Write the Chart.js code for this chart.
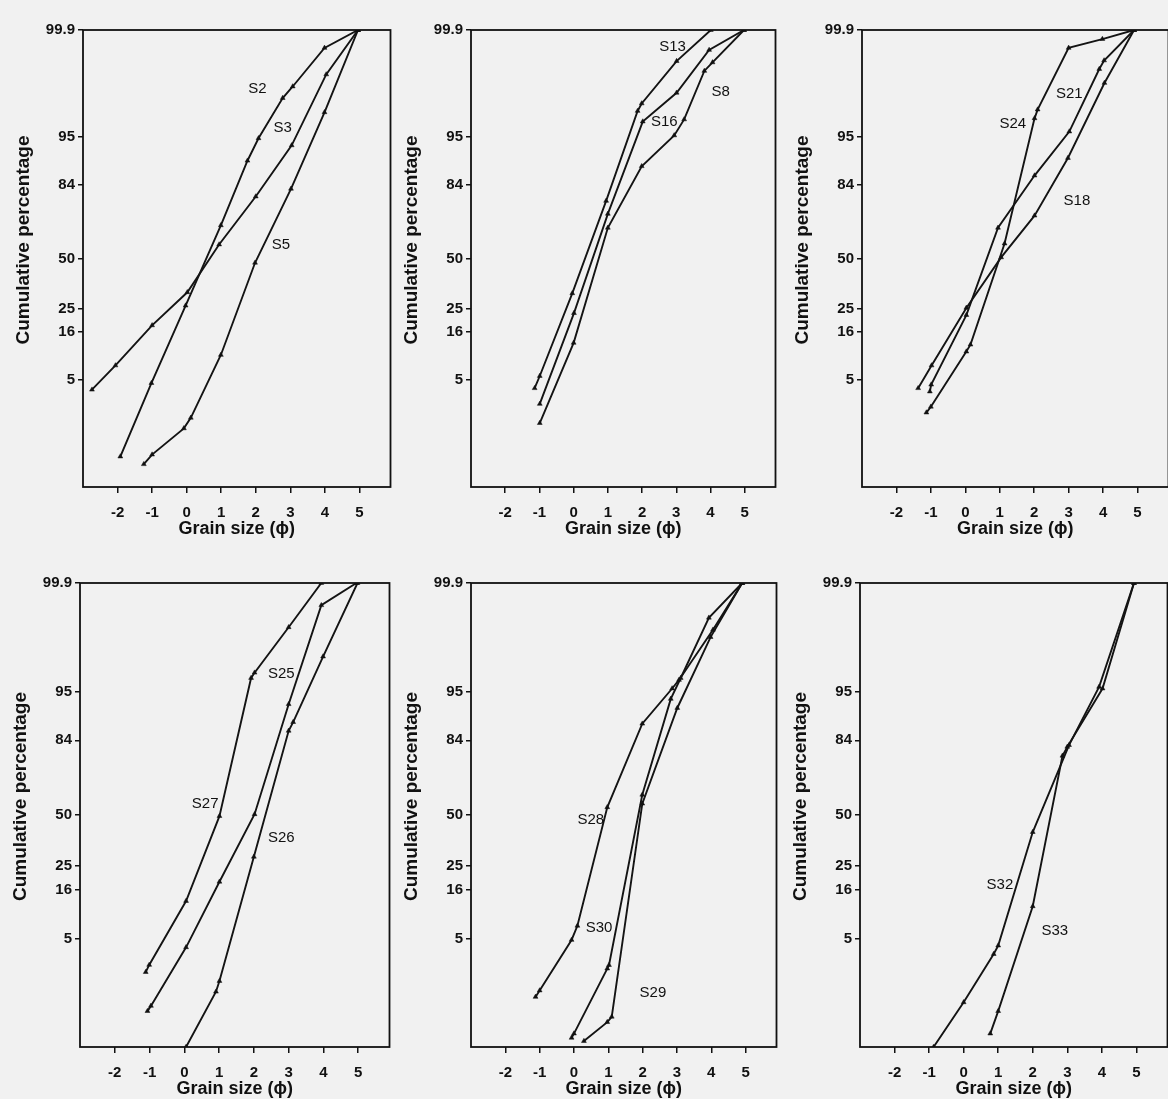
<!DOCTYPE html>
<html>
<head>
<meta charset="utf-8">
<script src="https://cdn.jsdelivr.net/npm/chart.js@4.4.1/dist/chart.umd.min.js"></script>
<style>
  body { margin: 0; background: #f1f1f1; width: 1168px; height: 1099px; overflow: hidden; position: relative; }
  canvas { position: absolute; }
</style>
</head>
<body>
<canvas id="p1"></canvas>
<canvas id="p2"></canvas>
<canvas id="p3"></canvas>
<canvas id="p4"></canvas>
<canvas id="p5"></canvas>
<canvas id="p6"></canvas>
<script>
// axis ticks
var xTicks = [-2, -1, 0, 1, 2, 3, 4, 5];
var yTickPct = [5, 16, 25, 50, 84, 95, 99.9];
var yTickText = ["5", "16", "25", "50", "84", "95", "99.9"];

// grain size (phi) and cumulative percentage
var s2Phi = [-1.92, -1.02, -0.03, 0.99, 1.76, 2.08, 2.78, 3.07, 3.99, 4.96];
var s2Pct = [0.37, 4.6, 26.2, 67.3, 90.7, 94.8, 98.5, 99.0, 99.78, 99.9];
var s3Phi = [-2.74, -2.06, -1.0, 0.02, 0.94, 2.0, 3.04, 4.04, 4.96];
var s3Pct = [3.8, 7.4, 18.3, 32.4, 57.5, 79.9, 93.7, 99.36, 99.9];
var s5Phi = [-1.24, -1.0, -0.08, 0.12, 0.99, 1.98, 3.02, 3.99, 4.96];
var s5Pct = [0.27, 0.40, 1.08, 1.56, 9.6, 47.7, 82.7, 97.6, 99.9];

var s13Phi = [-1.14, -0.99, -0.04, 0.95, 1.87, 1.99, 3.01, 4.01];
var s13Pct = [3.97, 5.6, 31.9, 78.2, 97.7, 98.2, 99.62, 99.9];
var s16Phi = [-0.99, 0.01, 1.0, 2.02, 3.01, 3.96, 4.98];
var s16Pct = [2.46, 23.0, 72.7, 96.8, 98.75, 99.76, 99.9];
var s8Phi = [-0.99, 0, 1.0, 1.99, 2.94, 3.23, 3.82, 4.06, 4.98];
var s8Pct = [1.30, 12.7, 66.1, 89.4, 95.2, 97.0, 99.44, 99.6, 99.9];

var s24Phi = [-1.13, -1.0, 0.03, 0.15, 1.14, 2.01, 2.1, 3.0, 3.98, 4.9];
var s24Pct = [1.86, 2.25, 10.4, 12.2, 58.0, 97.1, 97.8, 99.78, 99.85, 99.9];
var s21Phi = [-1.03, -0.99, 0.03, 0.95, 2.01, 3.02, 3.89, 4.03, 4.9];
var s21Pct = [3.6, 4.4, 22.2, 66.1, 86.9, 95.7, 99.48, 99.63, 99.9];
var s18Phi = [-1.37, -0.98, 0.03, 1.04, 2.01, 2.98, 4.04, 4.9];
var s18Pct = [3.97, 7.4, 25.2, 50.6, 71.9, 91.3, 99.12, 99.9];

var s27Phi = [-1.11, -1.01, 0.05, 1.01, 1.92, 2.02, 3.0, 3.94];
var s27Pct = [1.82, 2.29, 12.6, 49.4, 96.6, 97.1, 99.38, 99.9];
var s25Phi = [-1.06, -0.96, 0.05, 1.01, 2.02, 3.0, 3.94, 4.95];
var s25Pct = [0.45, 0.55, 3.9, 18.7, 50.4, 93.0, 99.74, 99.9];
var s26Phi = [0.05, 0.91, 1.01, 2.0, 3.0, 3.13, 3.99, 4.98];
var s26Pct = [0.1, 0.93, 1.35, 28.9, 86.9, 89.2, 98.26, 99.9];

var s28Phi = [-1.12, -1.0, -0.07, 0.1, 0.97, 1.99, 2.86, 3.06, 4.05, 4.9];
var s28Pct = [0.77, 0.97, 4.8, 7.0, 54.1, 88.8, 95.4, 96.4, 99.32, 99.9];
var s30Phi = [-0.07, 0, 0.97, 1.02, 1.99, 2.82, 3.11, 3.93, 4.9];
var s30Pct = [0.15, 0.18, 2.04, 2.28, 60.6, 93.9, 96.6, 99.57, 99.9];
var s29Phi = [0.29, 0.97, 1.1, 1.99, 3.01, 3.98, 4.9];
var s29Pct = [0.13, 0.29, 0.36, 56.0, 92.3, 99.11, 99.9];

var s32Phi = [-0.87, 0, 0.87, 1.0, 2.0, 3.05, 3.92, 4.93];
var s32Pct = [0.1, 0.63, 3.2, 4.1, 41.0, 82.4, 95.6, 99.9];
var s33Phi = [0.77, 1.0, 2.0, 2.86, 3.0, 4.02, 4.93];
var s33Pct = [0.18, 0.45, 11.2, 78.5, 81.8, 95.4, 99.9];

// sample names and where they are written (phi, percent)
var panelNames = [["S2", "S3", "S5"], ["S13", "S16", "S8"], ["S24", "S21", "S18"],
                  ["S27", "S25", "S26"], ["S28", "S30", "S29"], ["S32", "S33"]];
var nameAt = {
  S2: [2.05, 98.9], S3: [2.78, 96.1], S5: [2.73, 57.1],
  S13: [2.89, 99.79], S8: [4.30, 98.8], S16: [2.65, 96.8],
  S21: [3.02, 98.7], S24: [1.38, 96.6], S18: [3.24, 78.2],
  S25: [2.79, 97.0], S27: [0.6, 56.0], S26: [2.79, 37.9],
  S28: [0.49, 47.6], S30: [0.73, 6.7], S29: [2.3, 0.90],
  S32: [1.05, 17.5], S33: [2.64, 6.2]
};
var seriesData = {
  S2: [s2Phi, s2Pct], S3: [s3Phi, s3Pct], S5: [s5Phi, s5Pct],
  S13: [s13Phi, s13Pct], S16: [s16Phi, s16Pct], S8: [s8Phi, s8Pct],
  S24: [s24Phi, s24Pct], S21: [s21Phi, s21Pct], S18: [s18Phi, s18Pct],
  S27: [s27Phi, s27Pct], S25: [s25Phi, s25Pct], S26: [s26Phi, s26Pct],
  S28: [s28Phi, s28Pct], S30: [s30Phi, s30Pct], S29: [s29Phi, s29Pct],
  S32: [s32Phi, s32Pct], S33: [s33Phi, s33Pct]
};

// plot frames on the page: left, top, right, bottom
var frames = [
  [83, 30, 391, 487], [471, 30, 776, 487], [862, 30, 1169, 487],
  [80, 583, 390, 1047], [471, 583, 777, 1047], [860, 583, 1168, 1047]
];

// inverse of the normal distribution (Acklam)
function probit(p) {
  var a = [-39.69683028665376, 220.9460984245205, -275.9285104469687, 138.3577518672690, -30.66479806614716, 2.506628277459239];
  var b = [-54.47609879822406, 161.5858368580409, -155.6989798598866, 66.80131188771972, -13.28068155288572];
  var c = [-0.007784894002430293, -0.3223964580411365, -2.400758277161838, -2.549732539343734, 4.374664141464968, 2.938163982698783];
  var d = [0.007784695709041462, 0.3224671290700398, 2.445134137142996, 3.754408661907416];
  var q, r;
  if (p < 0.02425) {
    q = Math.sqrt(-2 * Math.log(p));
    return (((((c[0]*q+c[1])*q+c[2])*q+c[3])*q+c[4])*q+c[5]) / ((((d[0]*q+d[1])*q+d[2])*q+d[3])*q+1);
  }
  if (p > 1 - 0.02425) {
    q = Math.sqrt(-2 * Math.log(1 - p));
    return -(((((c[0]*q+c[1])*q+c[2])*q+c[3])*q+c[4])*q+c[5]) / ((((d[0]*q+d[1])*q+d[2])*q+d[3])*q+1);
  }
  q = p - 0.5; r = q * q;
  return (((((a[0]*r+a[1])*r+a[2])*r+a[3])*r+a[4])*r+a[5])*q / (((((b[0]*r+b[1])*r+b[2])*r+b[3])*r+b[4])*r+1);
}

// probability axis: percentages placed by their normal score
class ProbabilityScale extends Chart.LinearScale {
  determineDataLimits() {
    this.min = probit(this.options.min / 100);
    this.max = probit(this.options.max / 100);
  }
  buildTicks() {
    return this.options.tickValues.map(function (v) { return { value: v }; });
  }
  getPixelForValue(v) {
    return super.getPixelForValue(probit(v / 100));
  }
}
ProbabilityScale.id = 'probability';
ProbabilityScale.defaults = {};
Chart.register(ProbabilityScale);

var frameBox = {
  id: 'frameBox',
  afterDraw: function (chart) {
    var a = chart.chartArea, ctx = chart.ctx;
    ctx.save();
    ctx.strokeStyle = '#111';
    ctx.lineWidth = 1.8;
    ctx.strokeRect(a.left, a.top, a.right - a.left, a.bottom - a.top);
    ctx.restore();
  }
};

var sampleNames = {
  id: 'sampleNames',
  afterDatasetsDraw: function (chart, args, opts) {
    var ctx = chart.ctx;
    ctx.save();
    ctx.fillStyle = '#111';
    ctx.font = '15px "Liberation Sans", Arial, sans-serif';
    ctx.textAlign = 'center';
    ctx.textBaseline = 'middle';
    opts.names.forEach(function (n) {
      var p = nameAt[n];
      ctx.fillText(n, chart.scales.x.getPixelForValue(p[0]), chart.scales.y.getPixelForValue(p[1]));
    });
    ctx.restore();
  }
};

var AXIS_W = 83, AXIS_H = 58, PAD_T = 14, PAD_R = 4;
var boldFont = '"Liberation Sans", Arial, sans-serif';

function makePanel(id, frame, names) {
  var cv = document.getElementById(id);
  cv.width = frame[2] - frame[0] + AXIS_W + PAD_R;
  cv.height = frame[3] - frame[1] + PAD_T + AXIS_H;
  cv.style.left = (frame[0] - AXIS_W) + 'px';
  cv.style.top = (frame[1] - PAD_T) + 'px';

  var datasets = names.map(function (n) {
    var phi = seriesData[n][0], pct = seriesData[n][1];
    return {
      label: n,
      data: phi.map(function (x, i) { return { x: x, y: pct[i] }; }),
      showLine: true,
      borderColor: '#141414',
      borderWidth: 1.9,
      pointStyle: 'triangle',
      pointRadius: 2.8,
      pointBackgroundColor: '#111',
      pointBorderColor: '#111',
      pointBorderWidth: 0.5
    };
  });

  new Chart(cv.getContext('2d'), {
    type: 'scatter',
    data: { datasets: datasets },
    options: {
      responsive: false,
      animation: false,
      layout: { padding: { top: PAD_T, right: PAD_R, left: 0, bottom: 0 } },
      plugins: {
        legend: { display: false },
        tooltip: { enabled: false },
        sampleNames: { names: names }
      },
      scales: {
        x: {
          type: 'linear',
          min: -3,
          max: 5.9,
          afterBuildTicks: function (s) { s.ticks = xTicks.map(function (v) { return { value: v }; }); },
          afterFit: function (s) { s.height = AXIS_H; },
          border: { display: false },
          grid: { drawOnChartArea: false, drawTicks: true, tickLength: 6, color: '#111', lineWidth: 1.5 },
          ticks: { color: '#111', padding: 11, font: { family: boldFont, size: 15, weight: 'bold' } },
          title: {
            display: true, text: 'Grain size (ϕ)', color: '#111',
            padding: { top: 0, bottom: 5 },
            font: { family: boldFont, size: 18, weight: 'bold', lineHeight: 1.2 }
          }
        },
        y: {
          type: 'probability',
          min: 0.1,
          max: 99.9,
          tickValues: yTickPct,
          afterFit: function (s) { s.width = AXIS_W; },
          border: { display: false },
          grid: { drawOnChartArea: false, drawTicks: true, tickLength: 5, color: '#111', lineWidth: 1.5 },
          ticks: {
            color: '#111', padding: 3,
            font: { family: boldFont, size: 15, weight: 'bold' },
            callback: function (v, i) { return yTickText[i]; }
          },
          title: {
            display: true,
            // leading no-break spaces lift the title a little, as in the original
            text: '\u00a0\u00a0\u00a0\u00a0\u00a0\u00a0\u00a0Cumulative percentage', color: '#111',
            padding: { top: 12, bottom: 0 },
            font: { family: boldFont, size: 19, weight: 'bold', lineHeight: 1.2 }
          }
        }
      }
    },
    plugins: [frameBox, sampleNames]
  });
}

frames.forEach(function (f, i) {
  makePanel('p' + (i + 1), f, panelNames[i]);
});
</script>
</body>
</html>
